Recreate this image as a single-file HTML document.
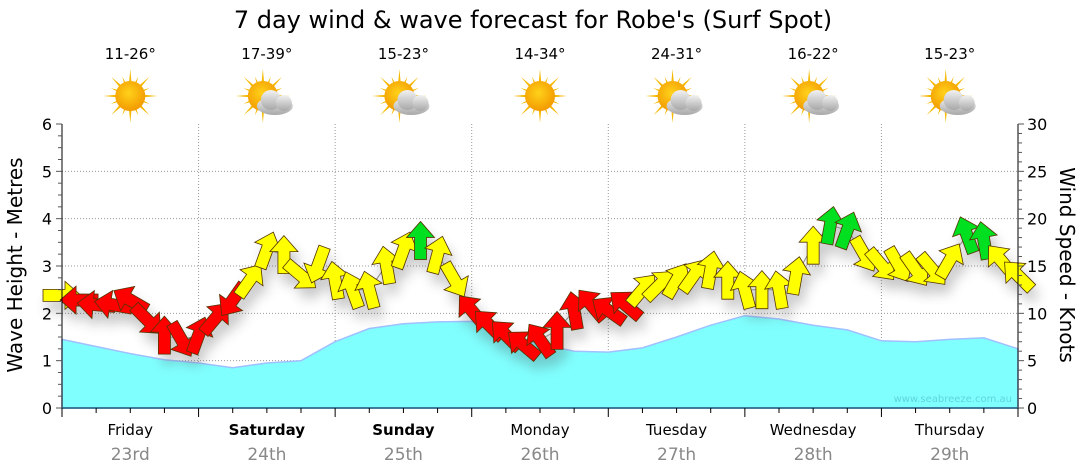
<!DOCTYPE html>
<html><head><meta charset="utf-8">
<style>
html,body{margin:0;padding:0;background:#fff;}
svg{display:block;font-family:"DejaVu Sans","Liberation Sans",sans-serif;}
</style></head>
<body>
<svg id="chart" width="1080" height="475" viewBox="0 0 1080 475" xmlns="http://www.w3.org/2000/svg">
<defs>
<radialGradient id="sunG" cx="45%" cy="40%" r="60%"><stop offset="0" stop-color="#ffd21a"/><stop offset="1" stop-color="#f39a00"/></radialGradient>
<linearGradient id="cloudG" x1="0" y1="0" x2="0" y2="1"><stop offset="0" stop-color="#f2f2f2"/><stop offset="1" stop-color="#a8a8a8"/></linearGradient>
<filter id="shadow" x="-50%" y="-50%" width="200%" height="200%"><feGaussianBlur stdDeviation="6"/></filter>
</defs>
<text x="533" y="28" font-size="24" text-anchor="middle" fill="#000">7 day wind &amp; wave forecast for Robe's  (Surf Spot)</text>
<g id="grid"></g>
<g id="wave"></g>
<g id="windShadow" filter="url(#shadow)" opacity="0.3"></g>
<g id="wind"></g>
<g id="axes"></g>
<g id="icons"></g>
<text x="1012" y="402" font-size="10" text-anchor="end" fill="#5fd4dc">www.seabreeze.com.au</text>
<text transform="translate(22,265) rotate(-90)" font-size="20" text-anchor="middle">Wave Height - Metres</text>
<text transform="translate(1060,265) rotate(90)" font-size="20" text-anchor="middle">Wind Speed - Knots</text>
</svg>
<script>
const days = ["Friday","Saturday","Sunday","Monday","Tuesday","Wednesday","Thursday"];
const dates = ["23rd","24th","25th","26th","27th","28th","29th"];
const boldDays = [false,true,true,false,false,false,false];
const temps = ["11-26°","17-39°","15-23°","14-34°","24-31°","16-22°","15-23°"];
const cloudy = [false,true,true,false,true,true,true];
const waveTicks = [0,1,2,3,4,5,6];
const windTicks = [0,5,10,15,20,25,30];
// wave height every 6 hours (metres)
const waveHeights = [1.45,1.3,1.15,1.02,0.95,0.85,0.95,1.0,1.4,1.68,1.78,1.82,1.83,1.55,1.35,1.2,1.18,1.27,1.5,1.75,1.95,1.88,1.75,1.65,1.42,1.4,1.45,1.48,1.25];
// wind every 3 hours (knots)
const windSpeeds = [11.9,11.4,10.9,10.9,11.4,9.3,7.7,7.2,7.7,9.5,11.4,13.5,16.7,16.2,14.0,15.1,13.5,12.5,12.5,15.1,16.7,17.7,16.2,13.5,10.3,8.8,7.7,6.7,7.2,8.2,10.3,10.9,10.3,10.9,12.5,13.0,13.5,14.0,14.6,13.5,12.5,12.5,12.5,14.0,17.2,19.3,18.8,16.2,15.1,15.1,14.6,14.6,15.6,18.3,17.7,15.6,14.0];
// arrow pointing direction (deg, 0 = up, clockwise)
const windDirs = [90,270,275,280,300,135,0,150,20,40,215,35,20,0,130,200,350,340,345,350,20,0,15,150,320,315,315,310,325,0,350,320,305,310,40,45,30,35,10,0,345,0,350,10,0,10,20,150,140,150,145,140,30,340,350,320,315];
const windColors = ["y","r","r","r","r","r","r","r","r","r","r","y","y","y","y","y","y","y","y","y","y","g","y","y","r","r","r","r","r","r","r","r","r","r","y","y","y","y","y","y","y","y","y","y","y","g","g","y","y","y","y","y","y","g","g","y","y"];

const X0=62, X1=1018, Y0=408, Ytop=124, totalH=168;
const NS="http://www.w3.org/2000/svg";
const xScale = h => X0 + (X1-X0)*h/totalH;
const yWave = m => Y0 - (Y0-Ytop)*m/6;
const yWind = k => Y0 - (Y0-Ytop)*k/30;
function mk(tag, parent, attrs){const e=document.createElementNS(NS,tag);for(const k in attrs)e.setAttribute(k,attrs[k]);parent.appendChild(e);return e;}
const grid=document.getElementById('grid'), axes=document.getElementById('axes');
for(let m=1;m<=5;m++){
  const l=mk('line',grid,{x1:X0,x2:X1,y1:yWave(m),y2:yWave(m),stroke:'#999','stroke-dasharray':'1,2'});
  
  
}
for(let d=1;d<7;d++){
  const l=mk('line',grid,{x1:xScale(d*24),x2:xScale(d*24),y1:Ytop,y2:Y0,stroke:'#999','stroke-dasharray':'1,2'});
  
  
}
let d='M'+X0+','+Y0;
waveHeights.forEach((v,i)=>{d+=' L'+xScale(i*6).toFixed(1)+','+yWave(v).toFixed(1);});
d+=' L'+X1+','+Y0+' Z';
const wa=mk('path',document.getElementById('wave'),{d:d,fill:'#80ffff',stroke:'#a0c0ff','stroke-width':1.5,'stroke-linejoin':'round'});


let ld='';
windSpeeds.forEach((v,i)=>{ld+=(i?' L':'M')+xScale(i*3).toFixed(1)+','+yWind(v).toFixed(1);});
const wl=mk('path',document.getElementById('wind'),{d:ld,fill:'none',stroke:'#888','stroke-width':1});


const colMap={r:'#ff0000',y:'#ffff00',g:'#00e020'};
const arrowPts="0,-19 14,-3 6,-3 6,19 -6,19 -6,-3 -14,-3";
windSpeeds.forEach((v,i)=>{
  const cx=xScale(i*3), cy=yWind(v);
  const s=mk('polygon',document.getElementById('windShadow'),{points:arrowPts,transform:`translate(${cx+4},${cy+10}) rotate(${windDirs[i]})`,fill:'#444'});
  
  
  const a=mk('polygon',document.getElementById('wind'),{points:arrowPts,transform:`translate(${cx},${cy}) rotate(${windDirs[i]})`,fill:colMap[windColors[i]],stroke:'#553300','stroke-width':0.8});
  
  
});
[[X0],[X1]].forEach(([x])=>{
  const l=mk('line',axes,{x1:x,x2:x,y1:Ytop,y2:Y0,stroke:'#000'});
  
  
});
const bx=mk('line',axes,{x1:X0,x2:X1,y1:Y0,y2:Y0,stroke:'#1a5a7a','stroke-width':1.5});


for(let q=0;q<=24;q++){
  const y=yWave(q*0.25);
  mk('line',axes,{x1:X0-(q%4==0?6:4),x2:X0,y1:y,y2:y,stroke:'#555'});
}
waveTicks.forEach(m=>{
  const t=mk('text',axes,{x:X0-10,y:yWave(m)+6,'font-size':16,'text-anchor':'end'});
  t.textContent=m;
  
  
});
for(let k=0;k<=30;k++){
  const y=yWind(k);
  mk('line',axes,{x1:X1,x2:X1+(k%5==0?6:4),y1:y,y2:y,stroke:'#555'});
}
windTicks.forEach(k=>{
  const t=mk('text',axes,{x:X1+9,y:yWind(k)+6,'font-size':16,'text-anchor':'start'});
  t.textContent=k;
  
  
});
for(let h=0;h<=168;h+=6){
  const x=xScale(h);
  mk('line',axes,{x1:x,x2:x,y1:Y0,y2:Y0+(h%24==0?9:5),stroke:'#000'});
}
const icons=document.getElementById('icons');
days.forEach((dn,i)=>{
  const cx=xScale(i*24+12);
  const t=mk('text',axes,{x:cx,y:435,'font-size':15,'text-anchor':'middle','font-weight':boldDays[i]?'bold':'normal'});
  t.textContent=dn;
  
  
  const t2=mk('text',axes,{x:cx,y:460,'font-size':17,'text-anchor':'middle',fill:'#888'});
  t2.textContent=dates[i];
  
  
  const t3=mk('text',icons,{x:cx,y:59,'font-size':15,'text-anchor':'middle'});
  t3.textContent=temps[i];
  
  
  const g=mk('g',icons,{transform:`translate(${cx-(cloudy[i]?4:0)},${96})`});
  
  
  for(let r=0;r<16;r++){
    const len=r%2?21:27;
    mk('polygon',g,{points:`-2.5,0 2.5,0 0,-${len}`,fill:'#f5b800',transform:`rotate(${r*22.5})`});
  }
  mk('circle',g,{cx:0,cy:0,r:15,fill:'url(#sunG)'});
  if(cloudy[i]){
    const c=mk('g',g,{transform:'translate(12,6)'});
    mk('ellipse',c,{cx:0,cy:4,rx:18,ry:9,fill:'url(#cloudG)'});
    mk('circle',c,{cx:-4,cy:-2,r:10,fill:'url(#cloudG)'});
    mk('circle',c,{cx:9,cy:1,r:8,fill:'url(#cloudG)'});
  }
});
</script>
</body></html>
